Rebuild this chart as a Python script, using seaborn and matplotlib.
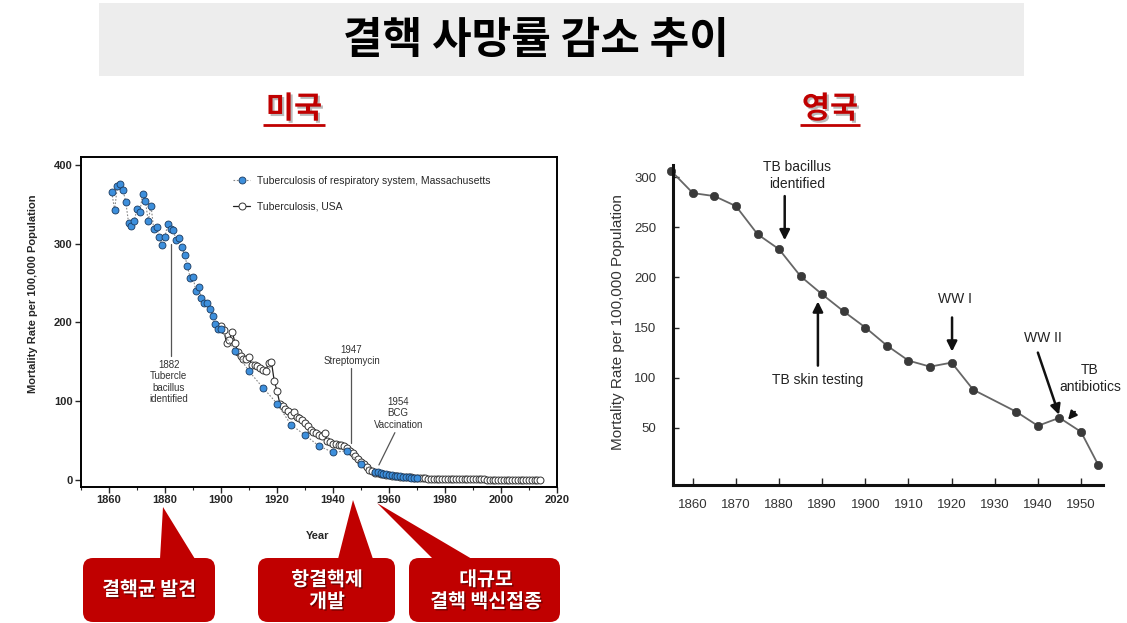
#%% Package Imports

import pandas as pd
import matplotlib as mpl
import matplotlib.pyplot as plt
import matplotlib.patheffects as pe
from matplotlib.patches import FancyBboxPatch, Polygon, Rectangle
import seaborn as sns

#%% Data - USA panel (Massachusetts respiratory TB and USA TB)

ma_years = list(range(1861, 1901)) + [1905, 1910, 1915, 1920, 1925, 1930, 1935, 1940, 1945, 1950] \
    + list(range(1955, 1971))
ma_rate = [365, 343, 373, 376, 368, 353, 326, 323, 329, 344,
           340, 363, 354, 329, 348, 318, 321, 309, 298, 309,
           325, 319, 317, 304, 307, 296, 286, 271, 257, 258,
           240, 245, 231, 224, 224, 217, 208, 198, 191, 191,
           164, 138, 117, 97, 70, 57, 43, 35, 37, 20,
           10, 9.5, 8.5, 8, 7, 6.5, 6, 5.5, 5, 4.5, 4, 3.5, 3.2, 3, 2.8, 2.5]

usa_years = list(range(1900, 2015))
usa_rate = [195, 190, 174, 178, 188, 174, 162, 157, 154, 154,
            156, 146, 146, 144, 142, 140, 138, 149, 150, 126,
            113, 97, 94, 90, 87, 83, 86, 80, 79, 76,
            72, 69, 64, 61, 59, 57, 56, 60, 49, 48,
            46, 45, 44, 44, 43, 40, 37, 34, 30, 27,
            23, 20, 16, 13, 11,
            9, 8.4, 7.8, 7.1, 6.5, 6.1, 5.4, 5.1, 4.9, 4.3,
            4.1, 3.9, 3.5, 3.1, 2.6, 2.6, 2.3, 2.1, 1.9, 1.7,
            1.6, 1.4, 1.3, 1.3, 1.2, 0.9, 0.8, 0.8, 0.7, 0.7,
            0.7, 0.7, 0.7, 0.8, 0.8, 0.7, 0.7, 0.7, 0.6, 0.6,
            0.5, 0.5, 0.4, 0.4, 0.3, 0.3, 0.3, 0.3, 0.3, 0.2,
            0.2, 0.2, 0.2, 0.2, 0.2, 0.2, 0.2, 0.2, 0.2, 0.2]

#%% Data - UK panel

uk_years = [1855, 1860, 1865, 1870, 1875, 1880, 1885, 1890, 1895, 1900,
            1905, 1910, 1915, 1920, 1925, 1935, 1940, 1945, 1950, 1954]
uk_rate = [306, 284, 281, 271, 243, 228, 201, 183, 166, 150,
           132, 117, 111, 115, 88, 66, 52, 60, 46, 13]

ma = pd.DataFrame({'year': ma_years, 'rate': ma_rate})
usa = pd.DataFrame({'year': usa_years, 'rate': usa_rate})
uk = pd.DataFrame({'year': uk_years, 'rate': uk_rate})

#%% Style

sns.set_style('white')
plt.rcParams['font.family'] = ['Liberation Sans', 'Noto Sans CJK KR', 'DejaVu Sans']
kr = ['Noto Sans CJK KR', 'DejaVu Sans']
red = '#c00000'

W, H = 1127, 623
fig = plt.figure(figsize=(W / 100, H / 100), dpi=100)

#%% Left panel - USA

ax = fig.add_axes([81 / W, 1 - 487 / H, 476 / W, 330 / H])

sns.lineplot(data=usa, x='year', y='rate', ax=ax, color='#222222', lw=0.9,
             marker='o', markersize=5, markerfacecolor='white',
             markeredgecolor='#333333', markeredgewidth=0.7,
             label='Tuberculosis, USA', zorder=3)
sns.lineplot(data=ma, x='year', y='rate', ax=ax, color='#888888', lw=0.8,
             linestyle=(0, (1.5, 1.5)), marker='o', markersize=5,
             markerfacecolor='#3d8fdc', markeredgecolor='#1b3a5e',
             markeredgewidth=0.6,
             label='Tuberculosis of respiratory system, Massachusetts', zorder=4)

ax.set_xlim(1850, 2020)
ax.set_ylim(-9, 410)
ax.set_xticks(range(1860, 2021, 20))
ax.set_yticks(range(0, 401, 100))
ax.xaxis.set_minor_locator(mpl.ticker.MultipleLocator(10))
ax.tick_params(which='major', direction='out', length=4, width=1, labelsize=8, pad=2, bottom=True, left=True)
ax.tick_params(which='minor', direction='out', length=2.5, width=0.8, bottom=True)
for lab in ax.get_xticklabels() + ax.get_yticklabels():
    lab.set_fontweight('bold')
for s in ax.spines.values():
    s.set_linewidth(1.4)
    s.set_color('black')

ax.set_xlabel('Year', fontsize=8, fontweight='bold')
ax.set_ylabel('Mortality Rate per 100,000 Population', fontsize=8, fontweight='bold')
ax.xaxis.set_label_coords(0.498, -0.133)
ax.yaxis.set_label_coords(-0.09, 0.585)

handles, labels = ax.get_legend_handles_labels()
ax.legend(handles[::-1], labels[::-1], loc='upper left', bbox_to_anchor=(0.3, 0.972),
          frameon=False, fontsize=7.5, handlelength=1.6, handletextpad=0.7,
          labelspacing=1.5)

# event annotations
note = dict(fontsize=7, color='#333333', ha='center', linespacing=1.15)
ax.plot([1882, 1882], [300, 157], color='#555555', lw=0.9)
ax.text(1881.3, 152, '1882\nTubercle\nbacillus\nidentified', va='top', **note)
ax.plot([1946.3, 1946.3], [142, 47], color='#555555', lw=0.9)
ax.text(1946.6, 145, '1947\nStreptomycin', va='bottom', **note)
ax.plot([1962.1, 1956.4], [60, 19], color='#555555', lw=0.9)
ax.text(1963.3, 64, '1954\nBCG\nVaccination', va='bottom', **note)

#%% Right panel - UK

ax2 = fig.add_axes([673 / W, 1 - 485 / H, 430 / W, 320 / H])

sns.lineplot(data=uk, x='year', y='rate', ax=ax2, color='#666666', lw=1.3,
             marker='o', markersize=6, markerfacecolor='#3a3a3a',
             markeredgecolor='#3a3a3a', markeredgewidth=0.5, clip_on=False)

ax2.set_xlim(1855.4, 1955.1)
ax2.set_ylim(-7, 312)
ax2.set_xticks(range(1860, 1951, 10))
ax2.set_yticks(range(50, 301, 50))
ax2.tick_params(axis='x', direction='in', length=5, width=1, labelsize=9.5,
                labelcolor='#333333', pad=10, bottom=True)
ax2.tick_params(axis='y', direction='in', length=4, width=1, labelsize=9.5,
                labelcolor='#333333', pad=12, left=True)
sns.despine(ax=ax2)
for s in ['left', 'bottom']:
    ax2.spines[s].set_linewidth(2.2)
    ax2.spines[s].set_color('#111111')
ax2.set_xlabel('')
ax2.set_ylabel('Mortality Rate per 100,000 Population', fontsize=11, color='#333333')
ax2.yaxis.set_label_coords(-0.112, 0.51)

arrow = dict(arrowstyle='-|>,head_length=0.6,head_width=0.3', lw=1.8, color='#111111',
             shrinkA=0, shrinkB=0)
tx = dict(fontsize=10, color='#222222', ha='center', linespacing=1.25)
ax2.text(1884.1, 286, 'TB bacillus\nidentified', va='bottom', **tx)
ax2.annotate('', xy=(1881.3, 237), xytext=(1881.3, 281), arrowprops=arrow)
ax2.text(1889, 98, 'TB skin testing', va='center', **tx)
ax2.annotate('', xy=(1889, 176), xytext=(1889, 112), arrowprops=arrow)
ax2.text(1920.8, 178.5, 'WW I', va='center', **tx)
ax2.annotate('', xy=(1920.1, 126), xytext=(1920.1, 160), arrowprops=arrow)
ax2.text(1941.2, 139.6, 'WW II', va='center', **tx)
ax2.annotate('', xy=(1944.9, 63), xytext=(1940, 125), arrowprops=arrow)
ax2.text(1952.1, 99, 'TB\nantibiotics', va='center', clip_on=False, **tx)
ax2.annotate('', xy=(1947, 58), xytext=(1948.6, 66),
             arrowprops=dict(arrow, arrowstyle='-|>,head_length=0.5,head_width=0.25', lw=1.5))

#%% Slide overlay - title, subtitles, callouts

ov = fig.add_axes([0, 0, 1, 1], zorder=10)
ov.set_xlim(0, W)
ov.set_ylim(H, 0)
ov.axis('off')

ov.add_patch(Rectangle((99, 3), 925, 73, color='#ededed', lw=0))
ov.text(536, 40, '결핵 사망률 감소 추이', fontsize=31, fontweight='bold',
        ha='center', va='center', family=kr, color='black')

shadow = [pe.withSimplePatchShadow(offset=(1.5, -1.5), shadow_rgbFace='#777777', alpha=0.5)]
for cx, txt, x0, x1 in [(294, '미국', 263, 325), (830, '영국', 800, 860)]:
    ov.text(cx, 109, txt, fontsize=22, fontweight='bold', color=red, ha='center',
            va='center', family=kr, path_effects=shadow)
    ov.plot([x0, x1], [125, 125], color=red, lw=2, solid_capstyle='butt')

callouts = [
    ((83, 558, 132, 64), [(160, 559), (163, 507), (195, 559)], (149, 590), '결핵균 발견'),
    ((258, 558, 137, 64), [(338, 559), (353, 500), (373, 559)], (327, 591), '항결핵제\n개발'),
    ((409, 558, 151, 64), [(377, 503), (433, 559), (472, 559)], (486, 591), '대규모\n결핵 백신접종'),
]
for (bx, by, bw, bh), tri, (tx_, ty_), txt in callouts:
    ov.add_patch(Polygon(tri, closed=True, color=red, lw=0))
    ov.add_patch(FancyBboxPatch((bx, by), bw, bh, boxstyle='round,pad=0,rounding_size=10',
                                color=red, lw=0))
    ov.text(tx_, ty_, txt, fontsize=14, fontweight='bold', color='white', ha='center',
            va='center', family=kr, linespacing=1.2,
            path_effects=[pe.withSimplePatchShadow(offset=(1, -1), shadow_rgbFace='#400000', alpha=0.6)])

fig.savefig('out.png', dpi=100)
